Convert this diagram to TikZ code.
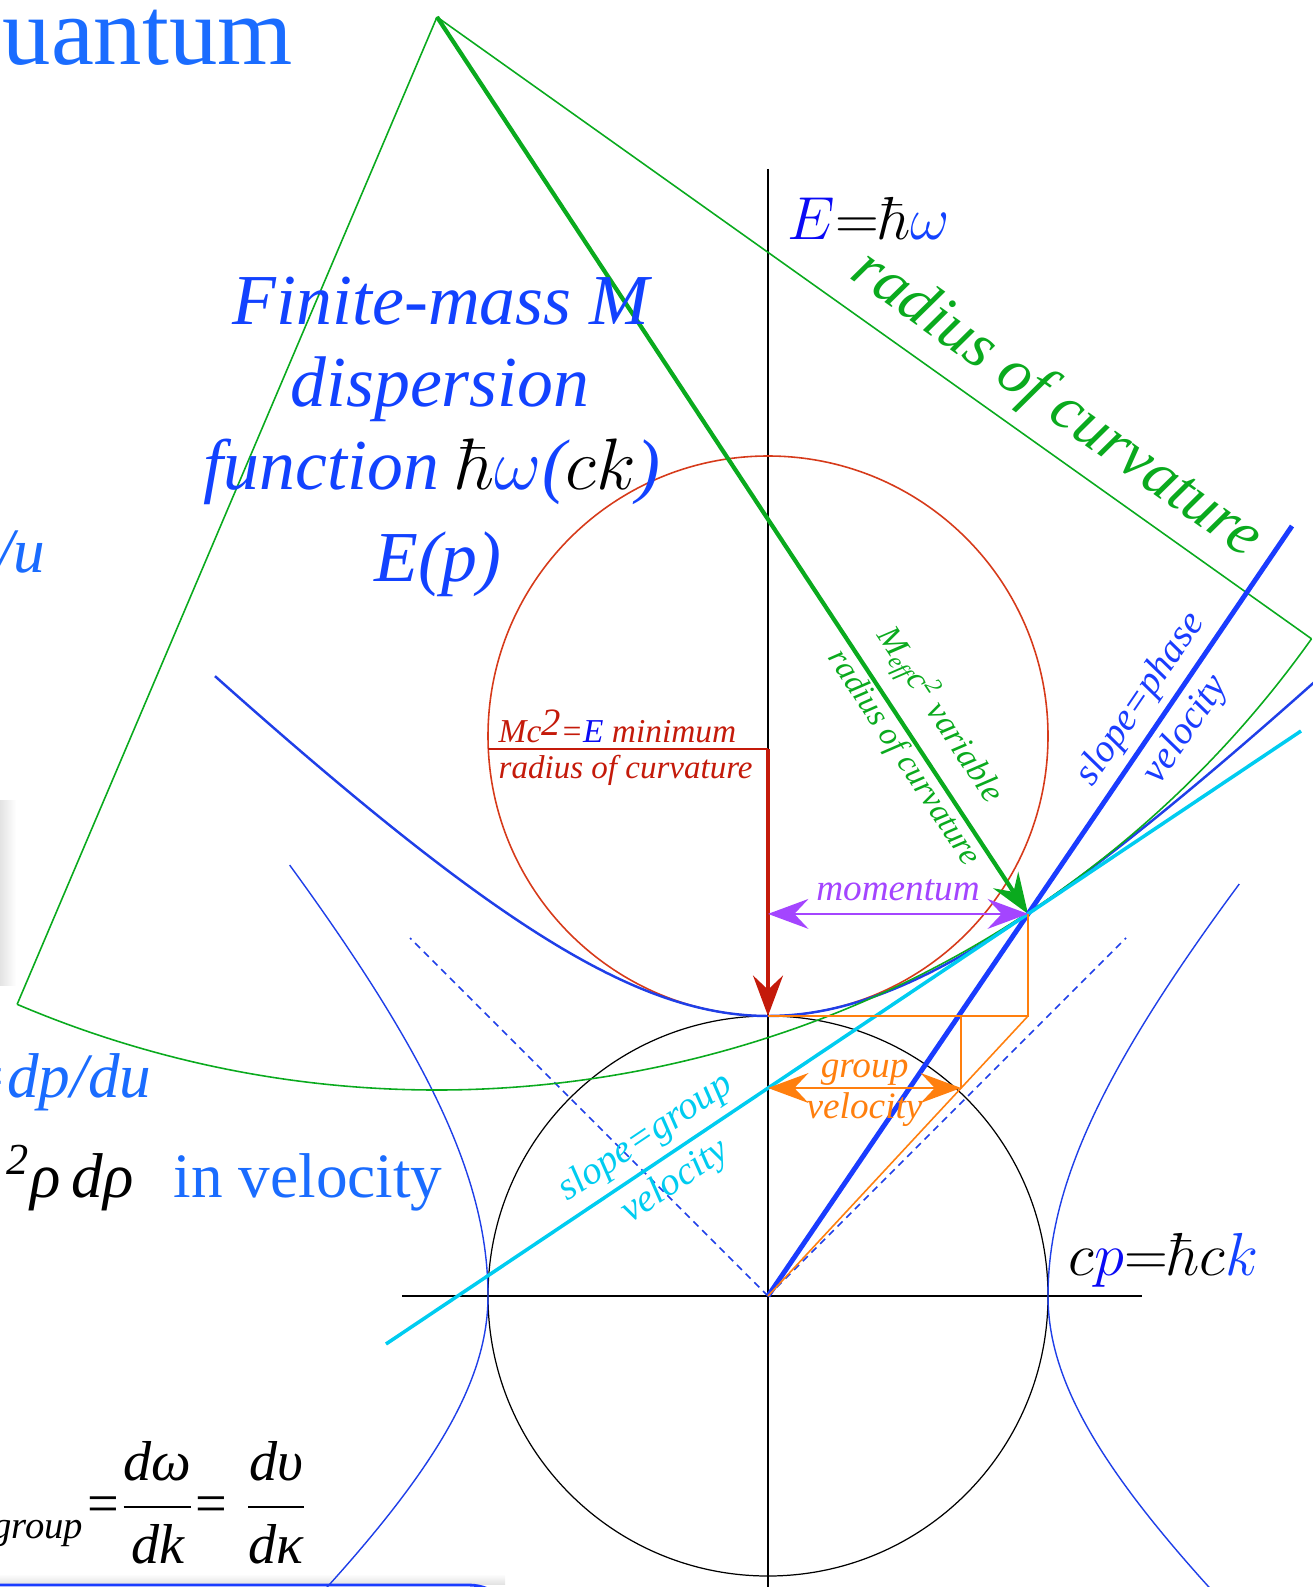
\documentclass[tikz,border=0pt]{standalone}
\usepackage{amsmath}
\usepackage[no-math]{fontspec}
\setmainfont{Liberation Serif}
\usepackage{xcolor}
\usetikzlibrary{arrows.meta, calc}
\definecolor{fmblue}{HTML}{1242FF}
\definecolor{slideblue}{HTML}{1A6CFF}
\definecolor{pureblue}{HTML}{0A0AF5}
\definecolor{curveblue}{HTML}{1F3FE8}
\definecolor{phaseblue}{HTML}{1A3CFF}
\definecolor{groupcyan}{HTML}{00CCF0}
\definecolor{curvgreen}{HTML}{0AAA1E}
\definecolor{minred}{HTML}{C41A0A}
\definecolor{circred}{HTML}{D63A1A}
\definecolor{momviolet}{HTML}{A445FF}
\definecolor{grporange}{HTML}{FF7F0E}

\begin{document}
\begin{tikzpicture}[x=0.1mm, y=-0.1mm,
  axis/.style={line width=0.35pt, black},
  thinline/.style={line width=0.45pt},
  velcurve/.style={curveblue, line width=0.4pt},
  bigarrow/.style={-{Stealth[length=11.5pt, width=8.5pt, inset=4pt]}},
  dblarrow/.style={{Stealth[length=11.5pt, width=8.5pt, inset=4pt]}-{Stealth[length=11.5pt, width=8.5pt, inset=4pt]}},
  lbl/.style={font=\fontsize{10}{12}\selectfont\itshape},
  slopelbl/.style={font=\fontsize{11.1}{13}\selectfont\itshape, sloped, inner sep=2pt},
  bigtxt/.style={font=\fontsize{20.4}{24}\selectfont\itshape, text=fmblue, inner sep=0pt},
  slidetxt/.style={text=slideblue, inner sep=0pt}
]
\useasboundingbox (0,0) rectangle (1313,1587);
\clip (0,0) rectangle (1313,1587);

% Key points
\coordinate (O) at (768,1296);
\coordinate (Emin) at (768,1016);
\coordinate (T) at (1028,913.9);
\coordinate (Q) at (1028,1016);
\coordinate (G) at (768,1088);
\coordinate (Gv) at (961.1,1088);
\coordinate (Pm) at (768,913.9);
\coordinate (R0) at (768,749);
\coordinate (R1) at (488.3,749);
\coordinate (apex) at (437,17);
\coordinate (gL) at (17.1,1004.4);
\coordinate (gR) at (1311.5,638.8);
\coordinate (phEnd) at (1292,526);
\coordinate (cL) at (386,1344);
\coordinate (cR) at (1301,731);
\coordinate (eTop) at (768,169);
\coordinate (eBot) at (768,1590);
\coordinate (pL) at (402,1296);
\coordinate (pR) at (1142,1296);

% Slide leftovers
\shade[left color=gray!22, right color=white] (0,800) rectangle (16,985);
\shade[top color=white, bottom color=gray!22] (0,1574) rectangle (505,1584);
\draw[phaseblue, line width=0.8pt, rounded corners=14] (-10,1585) -- (518,1585) -- (518,1620);

% Axes and circles
\draw[axis] (eTop) -- (eBot);
\draw[axis] (pL) -- (pR);
\draw[axis] (O) circle[radius=280];
\draw[circred, thinline] (768,736) circle[radius=280];

% Velocity hyperbolas
\draw[velcurve] plot[domain=0:4.31, samples=60] ({768-100*sqrt(7.84+(0.9*\x)^2)},{1296-100*\x});
\draw[velcurve] plot[domain=0:-3.1, samples=60] ({768-100*sqrt(7.84+(1.17*\x)^2)},{1296-100*\x});
\draw[velcurve] plot[domain=0:4.12, samples=60] ({768+100*sqrt(7.84+(0.92*\x)^2)},{1296-100*\x});
\draw[velcurve] plot[domain=0:-3.1, samples=60] ({768+100*sqrt(7.84+(1.17*\x)^2)},{1296-100*\x});

% Light-cone asymptotes
\draw[curveblue, thinline, dash pattern=on 2pt off 1.5pt] (O) -- (410,938);
\draw[curveblue, thinline, dash pattern=on 2pt off 1.5pt] (O) -- (1126,938);

% Dispersion hyperbola
\draw[curveblue, line width=0.7pt] plot[domain=-5.53:5.46, samples=150] ({768+100*\x},{1296-100*sqrt(7.84+\x*\x)});

% Circle of curvature
\draw[curvgreen, thinline] (apex) -- node[pos=.68, sloped, above, inner sep=3.5pt, font=\fontsize{18}{21}\selectfont\itshape]{radius of curvature} (gR);
\draw[curvgreen, thinline] (apex) -- (gL);
\draw[curvgreen, thinline] (gR) arc[start angle=35.42, end angle=113.04, radius=1073];
\draw[curvgreen, line width=1.2pt, bigarrow] (apex) --
      node[lbl, pos=.8, sloped, above, inner sep=4pt, font=\fontsize{9.6}{11}\selectfont\itshape]{M\textsubscript{eff}c\textsuperscript{2} variable}
      node[lbl, pos=.815, sloped, below, inner sep=0.5pt, font=\fontsize{9.3}{11}\selectfont\itshape]{radius of curvature} (T);

% Minimum radius
\draw[minred, thinline] (R1) -- (R0);
\node[lbl, text=minred, anchor=base west, inner sep=0pt, font=\fontsize{9.5}{11}\selectfont\itshape] (mclabel) at (498,742)
      {Mc\raisebox{0.45ex}{\fontsize{11}{11}\selectfont 2}=\textcolor{pureblue}{E} minimum};
\node[lbl, text=minred, anchor=base west, inner sep=0pt, font=\fontsize{9.4}{11}\selectfont\itshape] (rclabel) at (498,778) {radius of curvature};
\draw[minred, line width=1.2pt, bigarrow] (R0) -- (Emin);

% Phase and group slopes
\draw[phaseblue, line width=1.4pt] (O) --
      node[slopelbl, text=phaseblue, above, pos=.755]{slope=phase}
      node[slopelbl, text=phaseblue, below, pos=.755]{velocity} (phEnd);
\draw[groupcyan, line width=1pt] (cL) --
      node[slopelbl, text=groupcyan, above, pos=.3]{slope=group}
      node[slopelbl, text=groupcyan, below, pos=.3]{velocity} (cR);

% Construction lines
\draw[grporange, thinline] (Emin) -- (Q) -- (T);
\draw[grporange, thinline] (O) -- (Q);
\draw[grporange, thinline] (Gv) -- (Gv |- Q);
\draw[grporange, line width=0.6pt, dblarrow] (G) --
      node[lbl, text=grporange, above, inner sep=0.5pt, font=\fontsize{10.6}{12}\selectfont\itshape]{group}
      node[lbl, text=grporange, below, inner sep=1pt, font=\fontsize{10.6}{12}\selectfont\itshape]{velocity} (Gv);
\draw[momviolet, line width=0.6pt, dblarrow] (Pm) --
      node[lbl, text=momviolet, above, font=\fontsize{10.6}{12}\selectfont\itshape]{momentum} (T);

% Axis labels
\node[anchor=base west, inner sep=0pt, font=\fontsize{18.5}{22}\selectfont] (Elabel) at (787,240)
      {$\textcolor{pureblue}{E}{=}\hbar\textcolor{fmblue}{\omega}$};
\node[anchor=base west, inner sep=0pt, font=\fontsize{19}{22}\selectfont] (plabel) at (1068,1275)
      {$c\textcolor{pureblue}{p}{=}\hbar c\textcolor{fmblue}{k}$};

% Title block
\node[bigtxt, anchor=base] (fm1) at (441,325) {Finite-mass M};
\node[bigtxt, anchor=base] (fm2) at (440,407) {dispersion};
\node[bigtxt, anchor=base] (fm3) at (432,490) {function {\color{black}$\hbar$}$\omega$(\textcolor{black}{$ck$})};
\node[bigtxt, anchor=base] (fm4) at (438,582) {E(p)};

% Text cut by the slide edge
\node[slidetxt, anchor=base west, font=\fontsize{27.5}{31}\selectfont] (quantum) at (2,65) {uantum};
\node[slidetxt, anchor=base east, font=\fontsize{18}{21}\selectfont\itshape] (slashu) at (46,572) {/u};
\node[slidetxt, anchor=base east, font=\fontsize{18}{21}\selectfont\itshape] (dpdu) at (152,1097) {=dp/du};
\node[anchor=base west, inner sep=0pt, font=\fontsize{18}{21}\selectfont\itshape] (rho) at (6,1197) {\textsuperscript{2}ρ\,dρ};
\node[slidetxt, anchor=base west, font=\fontsize{18}{21}\selectfont] (invel) at (173,1197) {in velocity};
\node[anchor=base east, inner sep=0pt, font=\fontsize{11}{12}\selectfont\itshape] (grp) at (84,1538) {group};
\node[anchor=base west, inner sep=0pt, font=\fontsize{16}{19}\selectfont] (dwdk) at (87,1522)
      {$\textup{=}\dfrac{\textit{dω}}{\textit{dk}}\textup{=}\;\dfrac{\textit{dυ}}{\textit{dκ}}$};

\end{tikzpicture}
\end{document}
